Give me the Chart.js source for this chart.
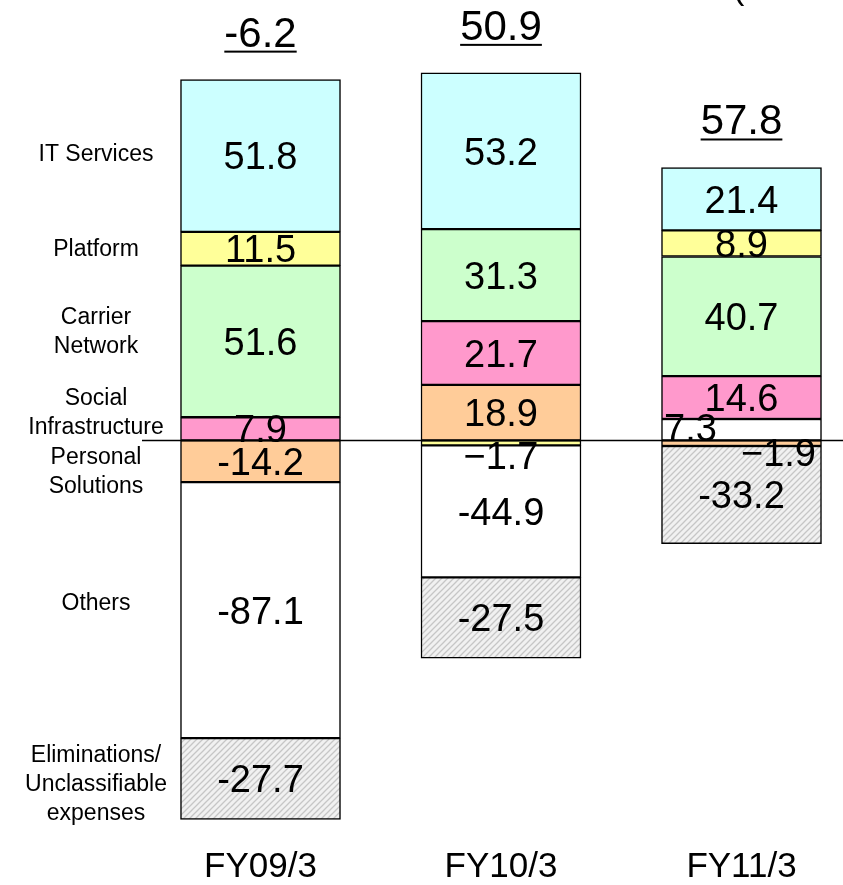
<!DOCTYPE html>
<html><head><meta charset="utf-8">
<script src="https://cdn.jsdelivr.net/npm/chart.js@4.4.1/dist/chart.umd.min.js"></script>
<style>html,body{margin:0;padding:0;background:#fff;}canvas{display:block;}</style>
</head><body>
<canvas id="c" width="843" height="885"></canvas>
<script>
// ---- data ----
const categories = ['FY09/3', 'FY10/3', 'FY11/3'];
const itServices = [51.8, 53.2, 21.4];
const platform = [11.5, -1.7, 8.9];
const carrierNetwork = [51.6, 31.3, 40.7];
const socialInfrastructure = [7.9, 21.7, 14.6];
const personalSolutions = [-14.2, 18.9, -1.9];
const others = [-87.1, -44.9, 7.3];
const eliminations = [-27.7, -27.5, -33.2];
const totals = [-6.2, 50.9, 57.8];
const segmentNames = {
  it: ['IT Services'],
  platform: ['Platform'],
  carrier: ['Carrier', 'Network'],
  social: ['Social', 'Infrastructure'],
  personal: ['Personal', 'Solutions'],
  others: ['Others'],
  elim: ['Eliminations/', 'Unclassifiable', 'expenses']
};
const unitLabel = '(Billion yen)';

// ---- styles ----
function hatchPattern() {
  const c = document.createElement('canvas'); c.width = 6; c.height = 6;
  const g = c.getContext('2d');
  g.fillStyle = '#f1f1f1'; g.fillRect(0, 0, 6, 6);
  g.strokeStyle = '#c6c6c6'; g.lineWidth = 1.3;
  g.beginPath();
  g.moveTo(-1, 7); g.lineTo(7, -1);
  g.moveTo(-1, 1); g.lineTo(1, -1);
  g.moveTo(5, 7); g.lineTo(7, 5);
  g.stroke();
  return g.createPattern(c, 'repeat');
}
const series = {
  it: { values: itServices, color: '#ccffff' },
  platform: { values: platform, color: '#ffff99' },
  carrier: { values: carrierNetwork, color: '#ccffcc' },
  social: { values: socialInfrastructure, color: '#ff99cc' },
  personal: { values: personalSolutions, color: '#ffcc99' },
  others: { values: others, color: '#ffffff' },
  elim: { values: eliminations, color: hatchPattern() }
};
// stacking order (closest to zero first)
const negOrder = ['personal', 'platform', 'others', 'elim'];
const posOrder = ['others', 'personal', 'social', 'carrier', 'platform', 'it'];

const datasets = [];
function addSet(key, sign) {
  const s = series[key];
  const data = s.values.map(v => (sign > 0 ? (v > 0 ? v : null) : (v < 0 ? v : null)));
  if (data.every(v => v === null)) return;
  datasets.push({
    label: segmentNames[key].join(' '), key, data,
    backgroundColor: s.color, borderColor: '#000', borderWidth: 1.5,
    borderSkipped: false, barThickness: 160, stack: 's', clip: false
  });
}
negOrder.forEach(k => addSet(k, -1));
posOrder.forEach(k => addSet(k, 1));

// label placement tweaks (layout only)
const labelTweaks = {
  'platform:1': { dx: 0, dy: 12, minus: '\u2212' },
  'others:2': { dx: -51, dy: -2 },
  'personal:2': { dx: 37, dy: 9, minus: '\u2212' }
};
const sideLabelOffsets = { it: -3, platform: -1, carrier: -11, social: -18, personal: 9, others: -8, elim: 4 };
const FONT = '"Liberation Sans", Arial, Helvetica, sans-serif';

const labelPlugin = {
  id: 'labels',
  afterDatasetsDraw(chart) {
    const ctx = chart.ctx;
    const yS = chart.scales.y;
    const y0 = yS.getPixelForValue(0);
    // zero line
    ctx.save();
    ctx.strokeStyle = '#000'; ctx.lineWidth = 1.5;
    ctx.beginPath(); ctx.moveTo(142, y0); ctx.lineTo(843, y0); ctx.stroke();
    ctx.restore();

    ctx.save();
    ctx.fillStyle = '#000';
    ctx.textAlign = 'center';
    ctx.textBaseline = 'alphabetic';
    const fs = 38;
    ctx.font = fs + 'px ' + FONT;
    const tops = [Infinity, Infinity, Infinity];
    const xs = [0, 0, 0];
    const fy09Centers = {};
    chart.data.datasets.forEach((ds, di) => {
      const meta = chart.getDatasetMeta(di);
      meta.data.forEach((el, i) => {
        const v = ds.data[i];
        if (v === null || v === undefined) return;
        const top = Math.min(el.y, el.base);
        tops[i] = Math.min(tops[i], top);
        xs[i] = el.x;
        const cy = (el.y + el.base) / 2;
        if (i === 0) fy09Centers[ds.key] = cy;
        const t = labelTweaks[ds.key + ':' + i] || {};
        let txt = v.toFixed(1);
        if (v < 0 && t.minus) txt = t.minus + Math.abs(v).toFixed(1);
        ctx.fillText(txt, el.x + (t.dx || 0), cy + (t.dy || 0) + fs * 0.358);
      });
    });

    // totals, underlined
    const tf = 42;
    ctx.font = tf + 'px ' + FONT;
    totals.forEach((tv, i) => {
      const base = tops[i] - 33;
      const txt = tv.toFixed(1);
      ctx.fillText(txt, xs[i], base);
      const w = ctx.measureText(txt).width;
      ctx.fillRect(xs[i] - w / 2, base + 4, w, 2);
    });

    // category labels
    ctx.font = '35px ' + FONT;
    categories.forEach((c, i) => ctx.fillText(c, xs[i], 877));

    // segment names on the left
    const sf = 23, lh = 29;
    ctx.font = sf + 'px ' + FONT;
    Object.keys(segmentNames).forEach(k => {
      const lines = segmentNames[k];
      const c = fy09Centers[k] + sideLabelOffsets[k];
      const startY = c - (lines.length - 1) * lh / 2;
      lines.forEach((ln, j) => ctx.fillText(ln, 96, startY + j * lh + sf * 0.358));
    });

    // unit label (cut at top edge)
    ctx.textAlign = 'left';
    ctx.font = '34px ' + FONT;
    ctx.fillText(unitLabel, 733, -1);
    ctx.restore();
  }
};

new Chart(document.getElementById('c'), {
  type: 'bar',
  data: { labels: categories, datasets },
  options: {
    responsive: false, animation: false, devicePixelRatio: 1,
    layout: { padding: { left: 260.5, right: 101.5, top: 0, bottom: 0 } },
    plugins: { legend: { display: false }, tooltip: { enabled: false } },
    scales: {
      x: { stacked: true, display: false, offset: false },
      y: { stacked: true, display: false, min: -151.3, max: 149.9 }
    }
  },
  plugins: [labelPlugin]
});
</script>
</body></html>
